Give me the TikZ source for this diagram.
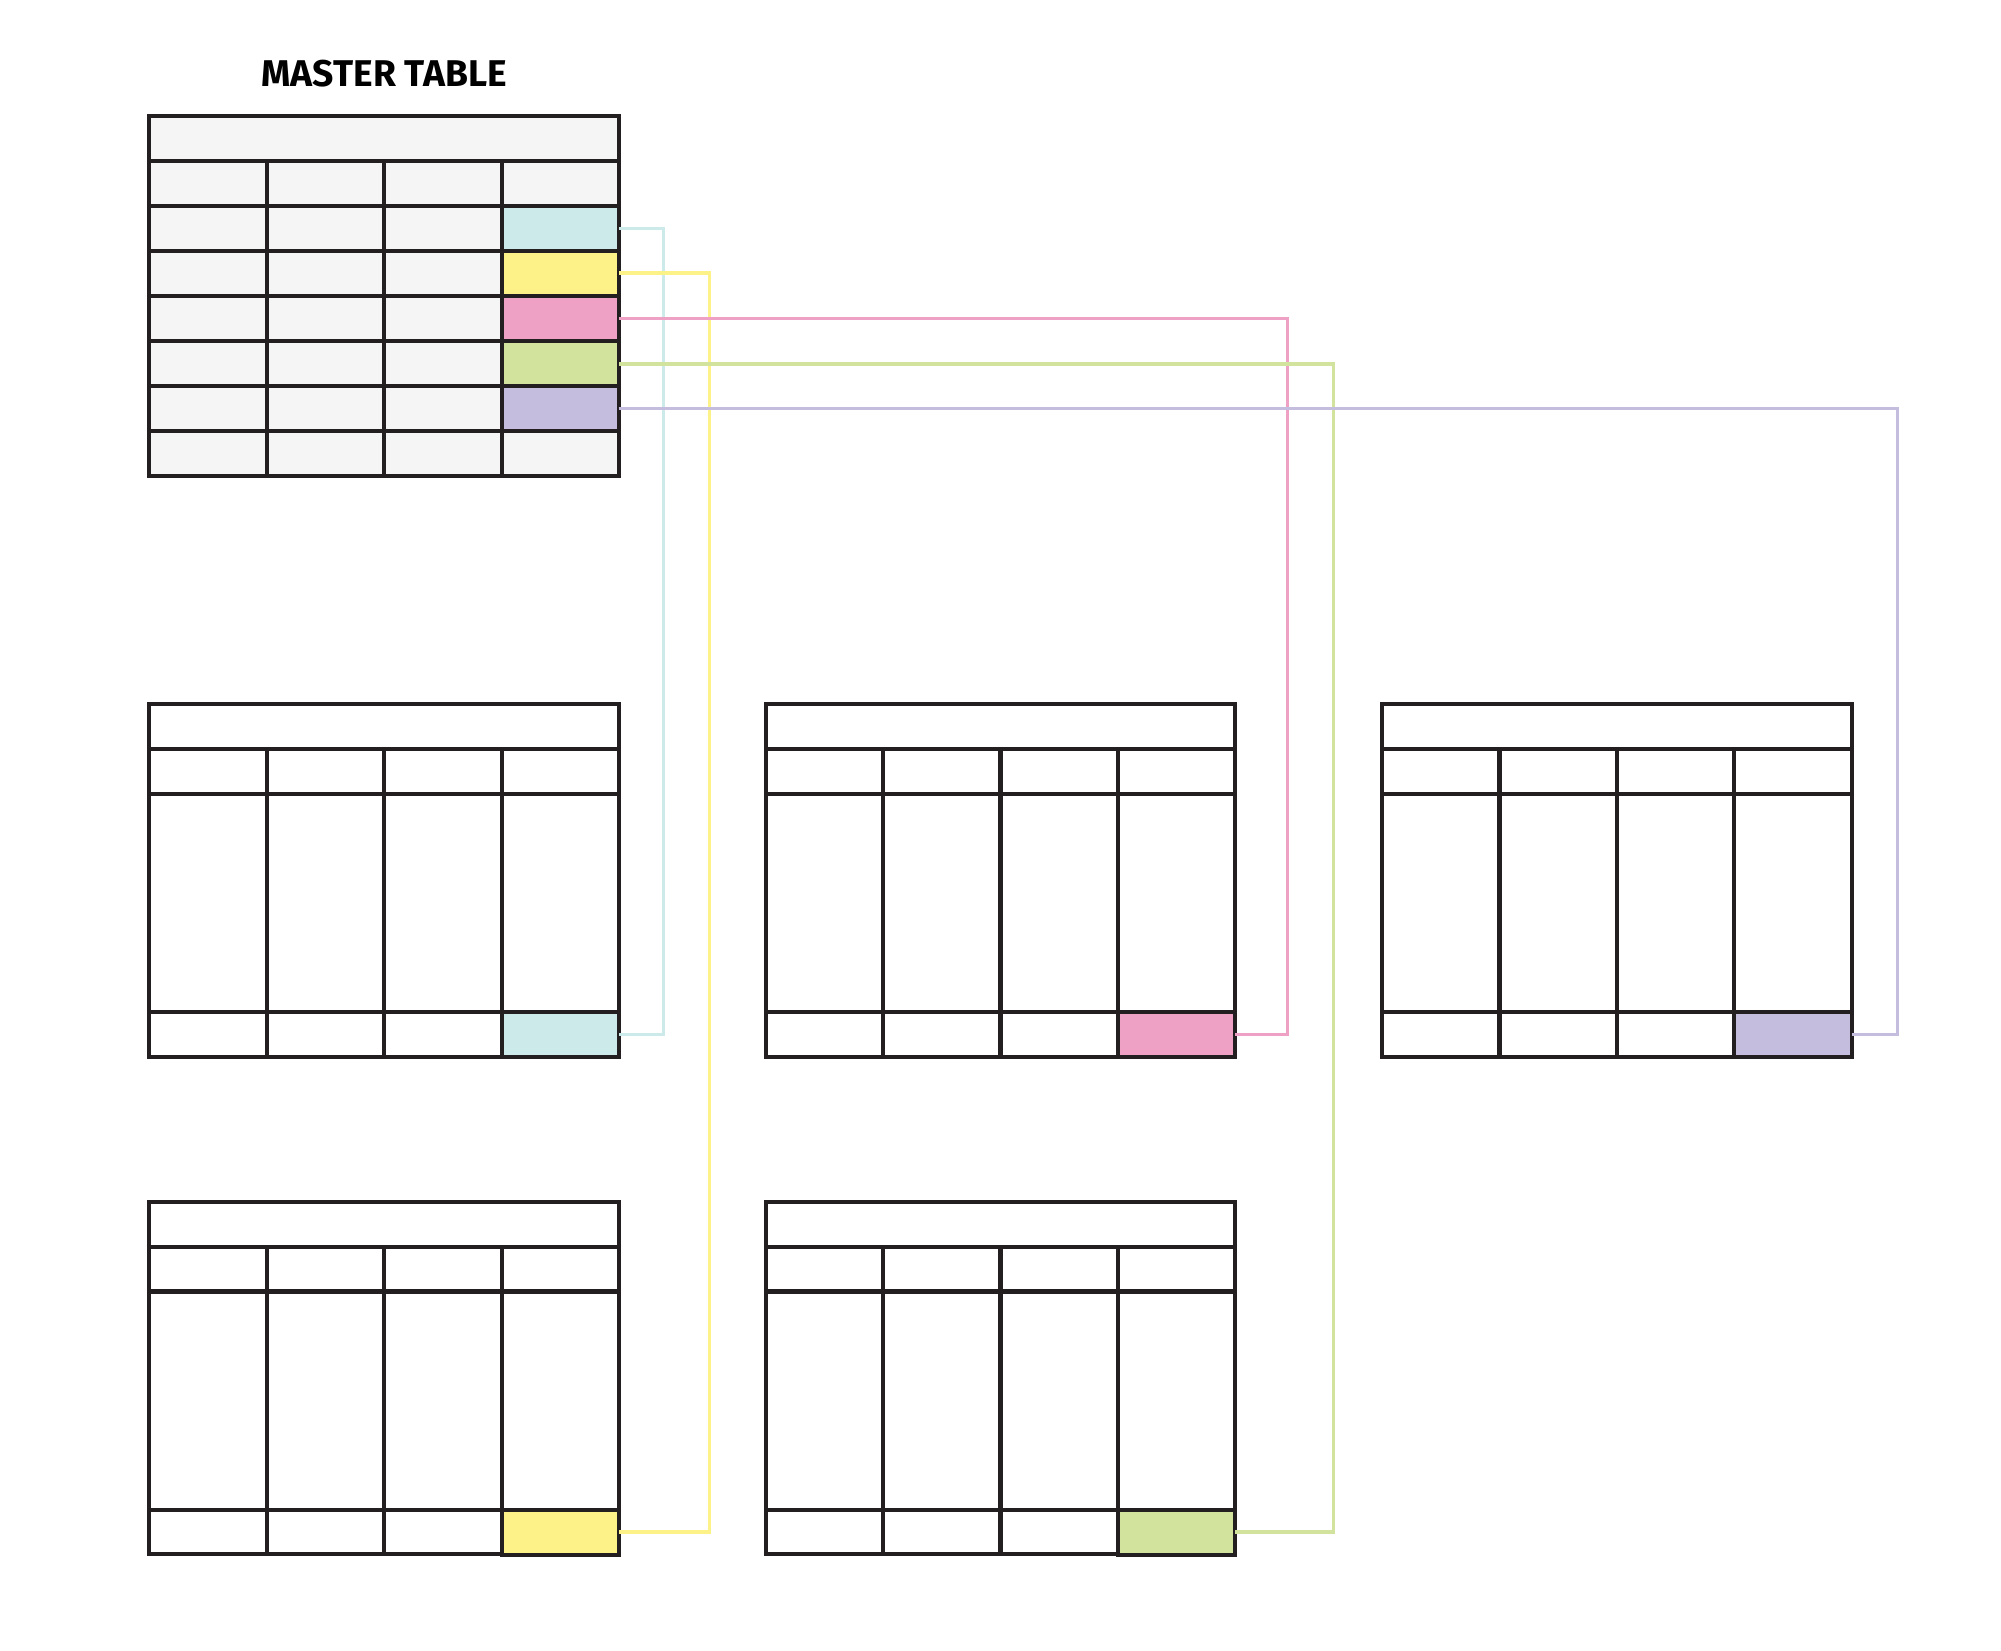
\documentclass[tikz,border=0pt]{standalone}
\usepackage{fontspec}
\setmainfont{Fira Sans}
\definecolor{ink}{HTML}{231F20}
\definecolor{paper}{HTML}{F5F5F5}
\definecolor{cyancell}{HTML}{CDEAEA}
\definecolor{yellowcell}{HTML}{FDF288}
\definecolor{pinkcell}{HTML}{EFA0C5}
\definecolor{greencell}{HTML}{D1E39D}
\definecolor{purplecell}{HTML}{C5BDDD}
\tikzset{
  tbl/.style={draw=ink, line width=0.9pt},
  cell/.style={draw=ink, line width=0.9pt, minimum width=0.92cm,
    minimum height=0.3525cm, inner sep=0pt, outer sep=0pt},
  link/.style={line width=0.8pt}
}
\begin{document}
\begin{tikzpicture}
  \useasboundingbox (0,0) rectangle (15.68,-12.937);
  \node[font=\fontsize{8.3}{10}\selectfont\bfseries] (title) at (3.01,-0.58) {MASTER TABLE};
  % master table
  \filldraw[tbl, fill=paper] (1.17,-0.91) rectangle (4.85,-3.73);
  \foreach \k in {1,...,7}
    \draw[tbl] (1.17,-0.91-0.3525*\k) -- (4.85,-0.91-0.3525*\k);
  \foreach \x in {2.09,3.01,3.93}
    \draw[tbl] (\x,-1.2625) -- (\x,-3.73);
  \node[cell, fill=cyancell]   (m1) at (4.39,-1.79) {};
  \node[cell, fill=yellowcell] (m2) at (4.39,-2.14) {};
  \node[cell, fill=pinkcell]   (m3) at (4.39,-2.495) {};
  \node[cell, fill=greencell]  (m4) at (4.39,-2.85) {};
  \node[cell, fill=purplecell] (m5) at (4.39,-3.20) {};
  % linked tables
  \foreach \x/\y/\c/\n in {1.17/-5.52/cyancell/ta, 6.00/-5.52/pinkcell/tb,
      10.83/-5.52/purplecell/tc, 1.17/-9.42/yellowcell/td, 6.00/-9.42/greencell/te} {
    \draw[tbl] (\x,\y) rectangle ++(3.68,-2.76);
    \foreach \r in {0.35,0.70,2.41}
      \draw[tbl] (\x,\y-\r) -- ++(3.68,0);
    \foreach \d in {0.92,1.84,2.76}
      \draw[tbl] (\x+\d,\y-0.35) -- ++(0,-2.41);
    \node[cell, fill=\c] (\n) at (\x+3.22,\y-2.585) {};
  }
  \begin{scope}[link]
    \draw[cyancell]   (m1.east) -- ++(0.35,0)  |- (ta.east);
    \draw[yellowcell] (m2.east) -- ++(0.71,0)  |- (td.east);
    \draw[pinkcell]   (m3.east) -- ++(5.24,0)  |- (tb.east);
    \draw[greencell]  (m4.east) -- ++(5.60,0)  |- (te.east);
    \draw[purplecell] (m5.east) -- ++(10.02,0) |- (tc.east);
  \end{scope}
\end{tikzpicture}
\end{document}
